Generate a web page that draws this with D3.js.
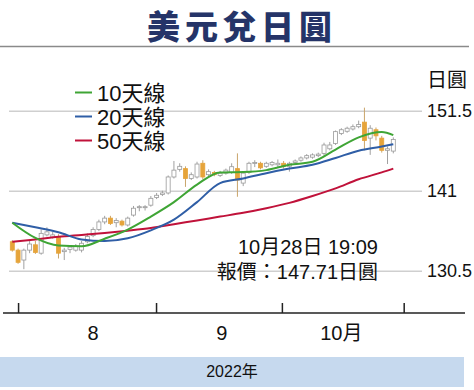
<!DOCTYPE html>
<html>
<head>
<meta charset="utf-8">
<script src="https://cdn.jsdelivr.net/npm/d3@7"></script>
<style>
  body { margin: 0; background: #fff; }
  svg text { font-family: "Liberation Sans", Arial, "Noto Sans CJK TC", sans-serif; }
</style>
</head>
<body>
<svg id="chart" width="474" height="390"></svg>
<script>
// trading days, Jul 28 - Oct 28 2022
var dates = ["7/28","7/29",
  "8/1","8/2","8/3","8/4","8/5","8/8","8/9","8/10","8/11","8/12","8/15","8/16","8/17","8/18","8/19",
  "8/22","8/23","8/24","8/25","8/26","8/29","8/30","8/31",
  "9/1","9/2","9/5","9/6","9/7","9/8","9/9","9/12","9/13","9/14","9/15","9/16","9/19","9/20","9/21",
  "9/22","9/23","9/26","9/27","9/28","9/29","9/30",
  "10/3","10/4","10/5","10/6","10/7","10/10","10/11","10/12","10/13","10/14","10/17","10/18","10/19",
  "10/20","10/21","10/24","10/25","10/26","10/27","10/28"];

var open  = [134.3,133.2,131.9,133.2,133.9,132.8,135.2,134.9,134.9,133.0,133.3,133.2,133.2,134.3,135.1,135.9,
  136.9,137.4,136.8,137.0,136.5,137.8,138.8,138.8,139.1,140.1,140.5,140.7,142.8,143.8,143.9,142.6,142.8,
  144.6,143.1,143.4,143.0,143.3,143.4,143.9,142.0,143.4,144.6,144.6,144.2,144.4,144.4,144.6,144.2,144.7,
  145.0,145.3,145.4,145.6,145.9,146.5,147.2,148.5,148.8,149.1,149.4,150.0,147.9,149.0,147.9,146.3,146.2];
var close = [133.2,131.6,133.2,134.0,132.9,135.4,135.6,135.2,132.8,133.2,133.6,133.7,134.1,135.0,135.9,136.9,
  137.4,136.7,137.1,136.5,137.4,138.7,138.9,138.9,140.0,140.4,140.7,142.8,143.7,144.2,142.6,143.1,144.5,
  142.8,143.5,143.1,143.3,143.7,144.15,142.4,143.3,144.6,144.7,144.0,144.6,144.7,144.6,144.2,144.6,144.9,
  145.3,145.6,145.7,145.8,147.0,147.0,148.75,149.0,149.2,149.4,149.7,147.6,149.2,148.2,146.3,146.5,147.71];
var high  = [134.5,133.4,133.4,134.5,134.4,135.9,136.2,135.6,135.3,133.5,133.8,134.0,134.4,135.4,136.2,137.2,
  137.7,137.7,137.4,137.2,137.6,139.0,139.1,139.1,140.3,140.7,141.0,143.0,144.9,144.6,144.2,143.4,144.8,
  145.0,143.8,143.6,143.6,143.9,144.6,145.9,143.5,144.8,145.0,144.8,144.8,144.9,145.1,144.9,144.8,145.1,
  145.5,145.8,145.9,146.0,147.3,147.4,148.9,149.2,149.4,149.7,150.2,151.9,149.6,149.3,148.2,146.8,148.0];
var low   = [133.0,131.4,130.7,132.8,132.7,132.6,135.0,134.7,132.1,131.9,132.8,133.0,132.9,134.1,134.9,135.7,
  136.6,136.5,136.2,136.3,136.3,137.6,138.3,138.4,138.9,139.9,140.3,140.5,142.6,143.5,141.5,142.4,142.6,
  142.5,142.9,142.9,142.8,143.1,143.2,140.2,141.6,143.2,144.1,143.8,144.0,144.2,144.1,143.9,143.5,144.5,
  144.8,145.1,145.2,145.4,145.6,146.3,147.0,148.3,148.6,148.9,149.2,146.3,145.7,147.6,146.0,144.5,145.9];

// moving averages at every 4th trading day
var maIdx = [0,4,8,12,16,20,24,28,32,36,40,44,48,52,56,60,64,66];
var ma10 = [136.8,134.8,133.8,133.7,134.7,135.9,137.6,139.5,141.8,143.4,143.45,143.7,144.4,144.8,146.4,148.0,148.7,148.3];
var ma20 = [136.8,136.2,135.55,134.6,134.4,134.75,135.8,137.2,139.5,142.0,142.6,143.3,143.9,144.4,145.3,146.25,146.8,147.1];
var ma50 = [134.3,134.6,134.95,135.2,135.45,135.75,136.1,136.6,137.1,137.6,138.1,138.7,139.4,140.3,141.3,142.5,143.4,143.9];

var yTicks = [130.5, 141, 151.5];
var monthTicks = [1.0, 24.9, 46.7, 67.8];
var monthLabels = ["8", "9", "10月"];
var monthLabelPos = [14, 36.3, 57];

var legendNames = ["10天線", "20天線", "50天線"];
var maColors = ["#3fa535", "#2f5ea6", "#c0123a"];

var svg = d3.select("#chart");

var x = d3.scaleLinear().domain([0, dates.length - 1]).range([12.3, 393.3]);
var y = d3.scaleLinear().domain([130.5, 151.5]).range([270.7, 110.7]);

// title
svg.append("text")
    .attr("x", 242).attr("y", 38.5)
    .attr("text-anchor", "middle")
    .style("font-family", "'Noto Sans CJK TC', sans-serif")
    .style("font-weight", "900")
    .style("font-size", "33px")
    .style("letter-spacing", "5px")
    .attr("fill", "#253468")
    .text("美元兌日圓");

svg.append("line")
    .attr("x1", 0).attr("x2", 469).attr("y1", 46.5).attr("y2", 46.5)
    .attr("stroke", "#8a8a8a").attr("stroke-width", 1.5);

// gridlines + right labels
var yAxis = svg.append("g")
    .attr("transform", "translate(422,0)")
    .call(d3.axisRight(y).tickValues(yTicks).tickSize(-413).tickPadding(5)
        .tickFormat(function (d) { return d; }));
yAxis.select(".domain").remove();
yAxis.selectAll(".tick line").attr("stroke", "#cfcfcf").attr("stroke-width", 1.5);
yAxis.selectAll(".tick text")
    .attr("fill", "#111")
    .style("font-size", "18px");

svg.append("text")
    .attr("x", 427).attr("y", 87)
    .style("font-family", "'Noto Sans CJK TC', sans-serif")
    .style("font-size", "20px")
    .attr("fill", "#111")
    .text("日圓");

// legend
legendNames.forEach(function (name, i) {
    var ly = 92.5 + i * 24;
    svg.append("line")
        .attr("x1", 75).attr("x2", 92).attr("y1", ly).attr("y2", ly)
        .attr("stroke", maColors[i]).attr("stroke-width", 2);
    svg.append("text")
        .attr("x", 97).attr("y", ly + 8)
        .style("font-size", "22px")
        .attr("fill", "#111")
        .text(name);
});

// candles
var idx = d3.range(dates.length);
var candles = svg.append("g");
candles.selectAll("line.wick")
    .data(idx)
    .enter().append("line")
    .attr("class", "wick")
    .attr("x1", function (i) { return x(i); })
    .attr("x2", function (i) { return x(i); })
    .attr("y1", function (i) { return y(high[i]); })
    .attr("y2", function (i) { return y(low[i]); })
    .attr("stroke", function (i) { return close[i] < open[i] ? "#c9a56a" : "#a0a0a0"; })
    .attr("stroke-width", 1);
candles.selectAll("rect")
    .data(idx)
    .enter().append("rect")
    .attr("x", function (i) { return x(i) - 2; })
    .attr("width", 4)
    .attr("y", function (i) { return y(Math.max(open[i], close[i])); })
    .attr("height", function (i) { return Math.max(1, Math.abs(y(open[i]) - y(close[i]))); })
    .attr("fill", function (i) { return close[i] < open[i] ? "#e6a43a" : "#fff"; })
    .attr("stroke", function (i) { return close[i] < open[i] ? "#e6a43a" : "#9a9a9a"; })
    .attr("stroke-width", 0.8);

// moving average lines
var line = d3.line()
    .curve(d3.curveMonotoneX)
    .x(function (d, i) { return x(maIdx[i]); })
    .y(function (d) { return y(d); });
[ma50, ma20, ma10].forEach(function (s, k) {
    svg.append("path")
        .datum(s)
        .attr("d", line)
        .attr("fill", "none")
        .attr("stroke", maColors[2 - k])
        .attr("stroke-width", 2);
});

// latest quote
svg.append("text")
    .attr("x", 378).attr("y", 254)
    .attr("text-anchor", "end")
    .style("font-size", "20px")
    .attr("fill", "#111")
    .text("10月28日 19:09");
svg.append("text")
    .attr("x", 378).attr("y", 279)
    .attr("text-anchor", "end")
    .style("font-size", "20px")
    .attr("fill", "#111")
    .text("報價：147.71日圓");

// x axis
svg.append("line")
    .attr("x1", 3).attr("x2", 465).attr("y1", 313).attr("y2", 313)
    .attr("stroke", "#222").attr("stroke-width", 1.5);
var xAxis = svg.append("g")
    .attr("transform", "translate(0,313)")
    .call(d3.axisBottom(x).tickValues(monthTicks).tickSize(-10).tickFormat(""));
xAxis.select(".domain").remove();
xAxis.selectAll(".tick line").attr("stroke", "#222").attr("stroke-width", 1.5);

svg.selectAll("text.month")
    .data(monthLabels)
    .enter().append("text")
    .attr("class", "month")
    .attr("x", function (d, i) { return x(monthLabelPos[i]); })
    .attr("y", 340)
    .attr("text-anchor", "middle")
    .style("font-size", "20px")
    .attr("fill", "#111")
    .text(function (d) { return d; });

// year band
svg.append("rect")
    .attr("x", 0).attr("y", 357).attr("width", 464).attr("height", 30)
    .attr("fill", "#c6d9ee");
svg.append("text")
    .attr("x", 232).attr("y", 377)
    .attr("text-anchor", "middle")
    .style("font-size", "16px")
    .attr("fill", "#111")
    .text("2022年");
</script>
</body>
</html>
